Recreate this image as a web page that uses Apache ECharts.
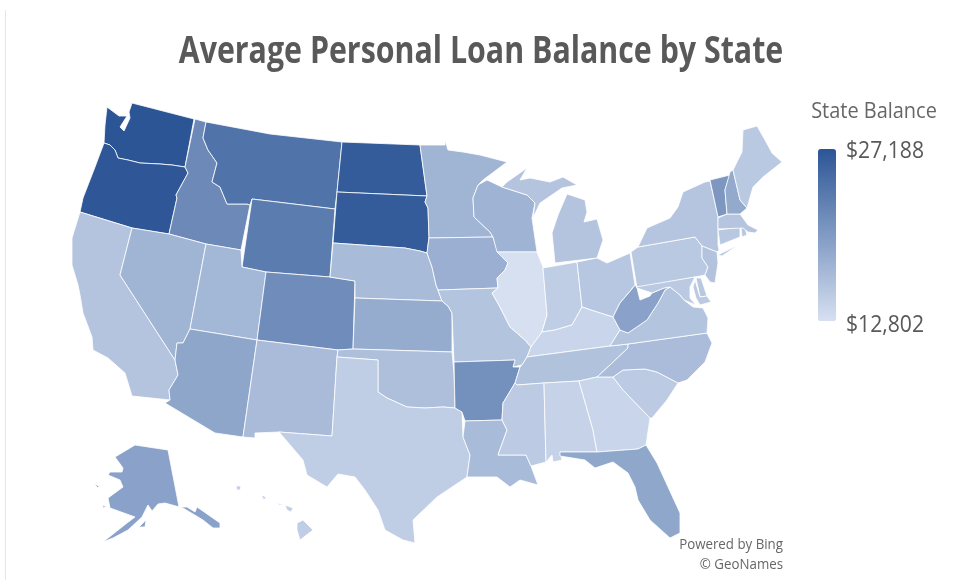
<!DOCTYPE html>
<html>
<head>
<meta charset="utf-8">
<style>
  html, body { margin: 0; padding: 0; background: #fff; }
  #chart { width: 958px; height: 580px; }
</style>
<script src="https://cdn.jsdelivr.net/npm/echarts@6/dist/echarts.min.js"></script>
</head>
<body>
<div id="chart"></div>
<script>
const titleText = 'Average Personal Loan Balance by State'
const legendTitle = 'State Balance'
const credits = ['Powered by Bing', '© GeoNames']
const balanceMin = 12802
const balanceMax = 27188
const rampColors = ['#d6e0f1', '#2c5596']

const stateNames = ['Washington', 'Oregon', 'California', 'Idaho', 'Nevada', 'Montana', 'Wyoming', 'Utah', 'Arizona', 'Colorado', 'New Mexico', 'North Dakota', 'South Dakota', 'Nebraska', 'Kansas', 'Oklahoma', 'Texas', 'Minnesota', 'Iowa', 'Missouri', 'Arkansas', 'Louisiana', 'Wisconsin', 'Illinois', 'Michigan', 'Indiana', 'Ohio', 'Kentucky', 'Tennessee', 'Mississippi', 'Alabama', 'Georgia', 'Florida', 'South Carolina', 'North Carolina', 'Virginia', 'West Virginia', 'Pennsylvania', 'New York', 'New Jersey', 'Delaware', 'Maryland', 'Connecticut', 'Rhode Island', 'Massachusetts', 'Vermont', 'New Hampshire', 'Maine', 'Alaska', 'Hawaii']
const stateBalances = [27188, 26950, 15660, 21800, 17340, 24100, 23200, 17090, 18770, 21470, 16590, 26500, 26500, 16670, 18180, 16250, 14740, 17340, 17850, 15750, 21100, 16670, 17430, 12802, 15660, 14740, 15410, 13900, 15900, 15000, 14230, 13980, 18700, 15000, 16500, 15750, 19200, 15160, 15580, 15800, 15300, 15100, 15300, 15300, 15580, 20370, 18430, 15160, 19200, 14650]

// map asset: outlines traced in a 958x580 frame, one list of rings per state
const stateOutlines = {
  'Washington': [[[107,107],[119,116],[127,116],[120,127],[124,131],[130,118],[129,112],[132,103],[194,119],[185,167],[172,165],[160,164],[140,163],[128,160],[118,158],[115,150],[110,145],[104,143],[105,125]]],
  'Oregon': [[[104,143],[110,145],[115,150],[118,158],[128,160],[140,163],[160,164],[172,165],[185,167],[188,173],[176,195],[177,198],[169,234],[132,228],[80,212],[83,198],[95,167]]],
  'California': [[[80,212],[132,228],[120,275],[175,360],[178,375],[169,390],[170,400],[132,396],[125,373],[108,358],[93,350],[92,337],[83,313],[80,295],[78,285],[72,265],[72,238]]],
  'Idaho': [[[195,119],[206,122],[203,138],[208,150],[217,163],[212,182],[220,187],[227,204],[247,204],[250,205],[241,250],[206,244],[169,234],[177,198],[176,195],[188,173],[185,167]]],
  'Nevada': [[[132,228],[169,234],[206,244],[190,329],[183,343],[177,343],[175,360],[120,275]]],
  'Montana': [[[206,122],[270,134],[342,142],[337,192],[335,209],[252,199],[250,205],[247,204],[227,204],[220,187],[212,182],[217,163],[208,150],[203,138]]],
  'Wyoming': [[[252,199],[335,209],[330,277],[266,272],[242,267]]],
  'Utah': [[[206,244],[241,250],[242,267],[266,272],[257,340],[190,329]]],
  'Arizona': [[[190,329],[257,340],[243,437],[215,433],[165,403],[170,400],[169,390],[178,375],[175,360],[177,343],[183,343]]],
  'Colorado': [[[266,272],[330,277],[355,281],[353,349],[338,350],[257,340]]],
  'New Mexico': [[[257,340],[338,350],[337,357],[332,436],[279,432],[255,433],[255,438],[243,437]]],
  'North Dakota': [[[342,142],[420,145],[427,196],[337,192]]],
  'South Dakota': [[[337,192],[427,196],[425,202],[428,208],[429,237],[427,253],[420,251],[405,248],[333,243]]],
  'Nebraska': [[[333,243],[405,248],[420,251],[427,253],[432,267],[436,285],[442,301],[355,298],[355,281],[330,277]]],
  'Kansas': [[[355,298],[442,301],[448,306],[452,313],[452,352],[353,349]]],
  'Oklahoma': [[[338,350],[353,349],[452,352],[454,373],[455,408],[443,407],[425,408],[407,407],[387,398],[378,392],[378,360],[337,357]]],
  'Texas': [[[337,357],[378,360],[378,392],[387,398],[407,407],[425,408],[443,407],[455,408],[462,412],[463,437],[470,455],[467,477],[437,497],[413,520],[415,543],[403,540],[385,530],[378,510],[365,490],[355,477],[338,474],[327,487],[307,475],[303,460],[279,432],[332,436]]],
  'Minnesota': [[[420,145],[445,145],[445,140],[448,150],[463,152],[480,155],[507,162],[483,180],[478,185],[473,198],[474,217],[490,232],[493,237],[429,238],[428,208],[425,202],[427,196]]],
  'Iowa': [[[429,238],[493,237],[497,250],[508,263],[505,270],[497,278],[498,288],[438,290],[436,285],[432,267],[427,253]]],
  'Missouri': [[[438,290],[498,288],[492,293],[500,307],[510,327],[525,340],[531,347],[527,357],[522,365],[513,367],[515,360],[454,362],[452,313],[448,306],[442,301]]],
  'Arkansas': [[[454,362],[515,360],[513,367],[520,367],[515,383],[503,403],[502,420],[465,421],[462,412],[455,408]]],
  'Louisiana': [[[465,421],[502,420],[507,430],[498,455],[526,455],[531,466],[538,485],[520,480],[510,487],[497,477],[467,477],[470,455],[463,437]]],
  'Wisconsin': [[[478,185],[487,180],[502,187],[527,195],[535,203],[532,218],[537,252],[497,252],[493,237],[490,232],[474,217],[473,198]]],
  'Illinois': [[[497,252],[537,252],[543,267],[547,315],[542,332],[531,347],[525,340],[510,327],[500,307],[492,293],[498,288],[497,278],[505,270],[508,263]]],
  'Michigan': [[[555,263],[552,233],[558,215],[567,194],[585,200],[587,212],[584,222],[597,219],[603,240],[597,258]], [[502,187],[507,182],[527,168],[520,180],[530,178],[550,182],[563,177],[577,185],[562,188],[540,203],[533,218],[535,203],[527,195]]],
  'Indiana': [[[543,268],[577,262],[582,307],[572,325],[555,330],[542,332],[547,315]]],
  'Ohio': [[[577,262],[597,258],[607,263],[630,253],[635,285],[620,303],[613,317],[597,312],[582,307]]],
  'Kentucky': [[[527,357],[531,347],[542,332],[555,330],[572,325],[582,307],[597,312],[613,317],[620,330],[610,346]]],
  'Tennessee': [[[527,357],[610,346],[628,344],[628,348],[610,365],[597,377],[579,381],[544,383],[517,385],[515,383],[520,367],[522,365]]],
  'Mississippi': [[[515,383],[517,385],[544,383],[546,462],[531,466],[526,455],[498,455],[507,430],[502,420],[503,403]]],
  'Alabama': [[[544,383],[579,381],[593,430],[597,452],[560,452],[562,460],[553,462],[552,455],[546,462]]],
  'Georgia': [[[579,381],[597,377],[613,377],[623,390],[650,418],[646,445],[638,449],[597,452],[593,430]]],
  'Florida': [[[560,452],[597,452],[638,449],[646,445],[657,463],[680,513],[680,533],[670,538],[650,520],[638,500],[635,487],[628,473],[613,462],[595,468],[585,460],[560,456]]],
  'South Carolina': [[[613,377],[623,370],[645,369],[657,372],[678,383],[667,400],[652,418],[650,418],[623,390]]],
  'North Carolina': [[[597,377],[610,365],[628,348],[628,344],[707,333],[712,343],[705,362],[687,380],[678,383],[657,372],[645,369],[623,370],[613,377]]],
  'Virginia': [[[610,346],[620,330],[628,333],[647,320],[658,303],[665,290],[670,287],[680,295],[684,300],[693,307],[703,308],[708,318],[707,333],[628,344]]],
  'West Virginia': [[[613,317],[620,303],[632,289],[635,285],[637,288],[640,300],[650,296],[652,293],[664,288],[670,287],[665,290],[658,303],[647,320],[628,333],[620,330]]],
  'Pennsylvania': [[[631,252],[638,247],[695,237],[702,246],[702,258],[708,267],[705,275],[695,277],[637,288]]],
  'New York': [[[638,247],[647,228],[670,218],[678,207],[683,192],[705,182],[710,181],[715,203],[718,217],[718,245],[719,250],[717,252],[702,246],[695,237]], [[718,255],[738,245],[722,256]]],
  'New Jersey': [[[702,246],[717,252],[718,263],[715,283],[710,282],[705,275],[708,267],[702,258]]],
  'Delaware': [[[696,278],[701,278],[707,296],[700,297]]],
  'Maryland': [[[636,287],[695,277],[690,287],[690,298],[696,305],[684,300],[680,295],[670,287],[664,288],[652,293],[637,288]], [[695,280],[700,297],[707,296],[711,302],[700,305],[696,298],[693,287]]],
  'Connecticut': [[[718,230],[740,227],[740,237],[720,245]]],
  'Rhode Island': [[[741,227],[745,228],[747,235],[742,237]]],
  'Massachusetts': [[[718,218],[727,214],[740,214],[748,225],[758,230],[755,233],[748,232],[743,228],[718,229]]],
  'Vermont': [[[710,180],[730,175],[725,190],[727,214],[718,217],[715,203]]],
  'New Hampshire': [[[730,172],[733,170],[740,200],[747,208],[740,214],[727,214],[725,190]]],
  'Maine': [[[733,170],[742,152],[743,130],[757,126],[765,140],[772,153],[782,162],[763,177],[753,187],[747,208],[740,200]]],
  'Alaska': [[[115,457],[135,445],[168,450],[179,507],[187,507],[195,512],[197,507],[220,523],[220,528],[213,528],[203,520],[183,508],[165,503],[158,504],[152,511],[148,505],[142,517],[128,530],[113,538],[103,542],[127,523],[135,517],[110,508],[108,498],[123,487],[120,480],[108,475],[110,472],[122,472],[123,468]], [[139,527],[146,520],[145,527]], [[94,484],[99,486],[98,488]], [[103,505],[106,507],[103,508]]],
  'Hawaii': [[[297,523],[303,520],[313,530],[300,540],[297,530]], [[285,505],[293,508],[291,512],[287,510]], [[277,503],[284,505],[279,505]], [[261,495],[266,497],[264,500]], [[236,486],[241,486],[240,490],[237,490]]]
}

const identity = p => p

function buildGeoJson() {
  return {
    type: 'FeatureCollection',
    features: stateNames.map(name => ({
      type: 'Feature',
      properties: { name: name },
      geometry: { type: 'MultiPolygon', coordinates: stateOutlines[name].map(ring => [ring]) }
    }))
  }
}

function money(v) {
  return '$' + v.toLocaleString('en-US')
}

function label(text, x, y, scaleX, align, font, color) {
  return {
    type: 'text',
    silent: true,
    x: x,
    y: y,
    scaleX: scaleX,
    style: { text: text, font: font, fill: color, textAlign: align, textVerticalAlign: 'middle' }
  }
}

const textFont = '"Open Sans", sans-serif'

echarts.registerMap('usStates', buildGeoJson())

const chart = echarts.init(document.getElementById('chart'))
chart.setOption({
  backgroundColor: '#fff',
  animation: false,
  visualMap: {
    type: 'continuous',
    min: balanceMin,
    max: balanceMax,
    left: 818,
    top: 149,
    padding: 0,
    itemWidth: 18,
    itemHeight: 172,
    calculable: false,
    showLabel: false,
    text: null,
    inRange: { color: rampColors }
  },
  graphic: [
    { type: 'line', silent: true, shape: { x1: 5.5, y1: 10, x2: 5.5, y2: 580 }, style: { stroke: '#e6e6e6', lineWidth: 1 } },
    label(titleText, 481, 52, 0.82, 'center', '700 37px ' + textFont, '#595959'),
    label(legendTitle, 874, 112, 0.95, 'center', '400 21px ' + textFont, '#666'),
    label(money(balanceMax), 846, 151, 0.92, 'left', '400 23px ' + textFont, '#595959'),
    label(money(balanceMin), 846, 325, 0.92, 'left', '400 23px ' + textFont, '#595959'),
    label(credits[0], 783, 545, 0.95, 'right', '400 14px ' + textFont, '#666'),
    label(credits[1], 783, 565, 0.95, 'right', '400 14px ' + textFont, '#666')
  ],
  series: [{
    type: 'map',
    map: 'usStates',
    projection: { project: identity, unproject: identity },
    boundingCoords: [[0, 0], [958, 580]],
    left: 0,
    top: 0,
    width: 958,
    height: 580,
    roam: false,
    silent: true,
    label: { show: false },
    itemStyle: { borderColor: 'rgba(255,255,255,0.8)', borderWidth: 1 },
    data: stateNames.map((name, i) => ({ name: name, value: stateBalances[i] }))
  }]
})
</script>
</body>
</html>
